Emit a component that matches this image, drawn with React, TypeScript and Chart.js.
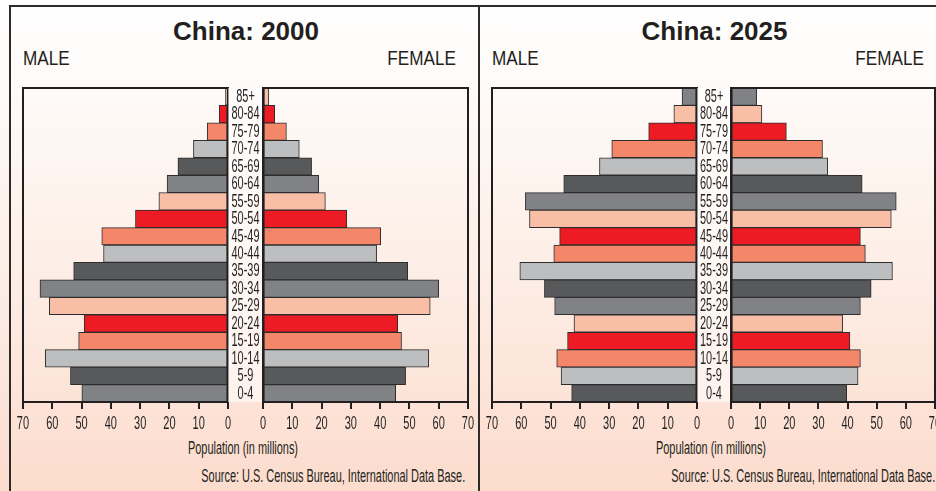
import React, { useEffect, useRef } from 'react';
import { Chart, registerables } from 'chart.js';

Chart.register(...registerables);

// ---------- DATA (population in millions), listed from oldest (top) to youngest (bottom) ----------
const AGE_GROUPS = ['85+', '80-84', '75-79', '70-74', '65-69', '60-64', '55-59', '50-54', '45-49', '40-44', '35-39', '30-34', '25-29', '20-24', '15-19', '10-14', '5-9', '0-4'];

const MALE_2000 = [0.9, 3.0, 7.1, 11.8, 17.1, 20.8, 23.6, 31.6, 43.1, 42.5, 52.7, 64.2, 61.0, 49.1, 51.0, 62.4, 53.8, 49.9];
const FEMALE_2000 = [2.0, 4.0, 8.0, 12.4, 16.6, 19.0, 21.3, 28.6, 40.2, 38.8, 49.4, 60.0, 57.1, 46.0, 47.3, 56.6, 48.7, 45.3];

const MALE_2025 = [5.1, 7.9, 16.5, 29.1, 33.3, 45.5, 58.6, 57.2, 46.9, 48.9, 60.5, 52.1, 48.6, 42.0, 44.2, 47.9, 46.4, 42.8];
const FEMALE_2025 = [8.8, 10.6, 19.0, 31.4, 33.2, 45.0, 56.7, 55.0, 44.4, 46.1, 55.4, 48.1, 44.4, 38.3, 40.8, 44.4, 43.6, 39.7];

const X_MIN = 0;
const X_MAX = 70;
const X_STEP = 10;

const TITLE_2000 = 'China: 2000';
const TITLE_2025 = 'China: 2025';
const MALE_LABEL = 'MALE';
const FEMALE_LABEL = 'FEMALE';
const AXIS_TITLE = 'Population (in millions)';
const SOURCE = 'Source: U.S. Census Bureau, International Data Base.';

// ---------- STYLES ----------
const GRAY = '#808285';
const DARK = '#58595B';
const LIGHT = '#BCBEC0';
const SALMON = '#F4866A';
const RED = '#ED1C24';
const PEACH = '#F9BEA6';

const CYCLE_2000 = [PEACH, RED, SALMON, LIGHT, DARK, GRAY];
const CYCLE_2025 = [GRAY, PEACH, RED, SALMON, LIGHT, DARK];
const COLORS_2000 = AGE_GROUPS.map((_, i) => CYCLE_2000[i % 6]);
const COLORS_2025 = AGE_GROUPS.map((_, i) => CYCLE_2025[i % 6]);

const INK = '#231F20';
const FONT = '"Liberation Sans", Arial, Helvetica, sans-serif';

const W = 936;
const H = 491;
const CANVAS_TOP = 80;
const PLOT_TOP = 88;
const PLOT_BOTTOM = 402;
const AXIS_H = 32;
const CANVAS_H = PLOT_BOTTOM - CANVAS_TOP + AXIS_H;

function condensed(ctx: CanvasRenderingContext2D, text: string, x: number, y: number, size: number, sx: number) {
  ctx.save();
  ctx.translate(x, y);
  ctx.scale(sx, 1);
  ctx.font = `${size}px ${FONT}`;
  ctx.fillStyle = INK;
  ctx.textAlign = 'center';
  ctx.textBaseline = 'middle';
  ctx.fillText(text, 0, 0);
  ctx.restore();
}

type HalfProps = {
  values: number[];
  colors: string[];
  male: boolean;
  plotLeft: number;
  plotRight: number;
  strip: number; // width of the centre age-label strip (female side only)
};

function HalfPyramid({ values, colors, male, plotLeft, plotRight, strip }: HalfProps) {
  const ref = useRef<HTMLCanvasElement | null>(null);
  const padLeft = male ? 10 : strip;
  const padRight = 10;
  const left = plotLeft - padLeft;
  const width = plotRight - plotLeft + padLeft + padRight;

  useEffect(() => {
    const canvas = ref.current;
    if (!canvas) return;
    const decor = {
      id: 'decor',
      beforeDatasetsDraw(chart: any) {
        const { ctx, chartArea: a } = chart;
        if (!male) {
          ctx.save();
          ctx.fillStyle = 'rgba(255,255,255,0.55)';
          ctx.fillRect(a.left - strip, a.top, strip, a.bottom - a.top);
          ctx.restore();
        }
      },
      afterDraw(chart: any) {
        const { ctx, chartArea: a } = chart;
        ctx.save();
        ctx.strokeStyle = INK;
        ctx.lineWidth = 2;
        ctx.strokeRect(a.left, a.top, a.right - a.left, a.bottom - a.top);
        ctx.restore();
        const xs = chart.scales.x;
        xs.ticks.forEach((t: any, i: number) => {
          condensed(ctx, String(t.value), xs.getPixelForTick(i), a.bottom + 21.5, 19, 0.58);
        });
        if (!male) {
          const ys = chart.scales.y;
          chart.data.labels.forEach((lab: string, i: number) => {
            condensed(ctx, lab, a.left - strip / 2, ys.getPixelForTick(i) + 0.5, 17.5, 0.625);
          });
        }
      },
    };
    const chart = new Chart(canvas, {
      type: 'bar',
      data: {
        labels: AGE_GROUPS,
        datasets: [
          {
            data: values,
            backgroundColor: colors,
            borderColor: '#2E2C2D',
            borderWidth: 1,
            borderSkipped: false,
            barPercentage: 1,
            categoryPercentage: 1,
          },
        ],
      },
      options: {
        indexAxis: 'y',
        responsive: false,
        maintainAspectRatio: false,
        animation: false,
        devicePixelRatio: 1,
        events: [],
        layout: { padding: { left: padLeft, right: padRight, top: PLOT_TOP - CANVAS_TOP, bottom: 0 } },
        plugins: { legend: { display: false }, tooltip: { enabled: false } },
        scales: {
          x: {
            type: 'linear',
            min: X_MIN,
            max: X_MAX,
            reverse: male,
            position: 'bottom',
            ticks: { stepSize: X_STEP, display: false },
            grid: { drawOnChartArea: false, drawTicks: true, tickLength: 7, color: INK, lineWidth: 2 },
            border: { display: true, color: INK, width: 2 },
            afterFit: (s: any) => {
              s.height = AXIS_H;
            },
          },
          y: { display: false },
        },
      } as any,
      plugins: [decor],
    });
    return () => chart.destroy();
  }, []);

  return (
    <canvas
      ref={ref}
      width={width}
      height={CANVAS_H}
      style={{ position: 'absolute', left, top: CANVAS_TOP, width, height: CANVAS_H }}
    />
  );
}

type TextProps = { x: number; y: number; text: string; size: number; sx?: number; align: 'left' | 'center' | 'right'; bold?: boolean };

function Label({ x, y, text, size, sx = 1, align, bold }: TextProps) {
  const base: React.CSSProperties = {
    position: 'absolute',
    top: y,
    whiteSpace: 'nowrap',
    fontFamily: FONT,
    fontSize: size,
    fontWeight: bold ? 700 : 400,
    lineHeight: 1,
    color: INK,
  };
  if (align === 'center') {
    return <div style={{ ...base, left: x, transform: `translate(-50%, -50%) scaleX(${sx})` }}>{text}</div>;
  }
  if (align === 'left') {
    return <div style={{ ...base, left: x, transformOrigin: 'left center', transform: `translateY(-50%) scaleX(${sx})` }}>{text}</div>;
  }
  return <div style={{ ...base, right: W - x, transformOrigin: 'right center', transform: `translateY(-50%) scaleX(${sx})` }}>{text}</div>;
}

type PanelProps = {
  title: string;
  male: number[];
  female: number[];
  colors: string[];
  maleLeft: number;
  maleZero: number;
  femaleZero: number;
  femaleRight: number;
  titleX: number;
  femaleLabelRight: number;
  axisTitleX: number;
  sourceRight: number;
};

function Panel(p: PanelProps) {
  return (
    <>
      <Label x={p.titleX} y={30.5} text={p.title} size={26} align="center" bold />
      <Label x={p.maleLeft} y={58.5} text={MALE_LABEL} size={19.5} sx={0.88} align="left" />
      <Label x={p.femaleLabelRight} y={58.5} text={FEMALE_LABEL} size={19.5} sx={0.88} align="right" />
      <HalfPyramid values={p.male} colors={p.colors} male plotLeft={p.maleLeft} plotRight={p.maleZero} strip={0} />
      <HalfPyramid
        values={p.female}
        colors={p.colors}
        male={false}
        plotLeft={p.femaleZero}
        plotRight={p.femaleRight}
        strip={p.femaleZero - p.maleZero}
      />
      <Label x={p.axisTitleX} y={449} text={AXIS_TITLE} size={17.5} sx={0.625} align="center" />
      <Label x={p.sourceRight} y={477} text={SOURCE} size={17.5} sx={0.625} align="right" />
    </>
  );
}

export default function App() {
  return (
    <div
      style={{
        position: 'fixed',
        left: 0,
        top: 0,
        width: W,
        height: H,
        overflow: 'hidden',
        background: 'linear-gradient(to bottom, #ffffff 0%, #fefaf7 20%, #fdeee6 55%, #fcdccd 100%)',
      }}
    >
      {/* frame lines */}
      <div style={{ position: 'absolute', left: 9, top: 5, width: W - 9, height: 2, background: '#2d2b2c' }} />
      <div style={{ position: 'absolute', left: 9, top: 5, width: 2, height: H - 5, background: '#2d2b2c' }} />
      <div style={{ position: 'absolute', left: 478, top: 5, width: 2, height: H - 5, background: '#2d2b2c' }} />

      <Panel
        title={TITLE_2000}
        male={MALE_2000}
        female={FEMALE_2000}
        colors={COLORS_2000}
        maleLeft={23}
        maleZero={228}
        femaleZero={263}
        femaleRight={468}
        titleX={246}
        femaleLabelRight={456}
        axisTitleX={242.5}
        sourceRight={465}
      />
      <Panel
        title={TITLE_2025}
        male={MALE_2025}
        female={FEMALE_2025}
        colors={COLORS_2025}
        maleLeft={492}
        maleZero={697}
        femaleZero={731}
        femaleRight={935}
        titleX={714.5}
        femaleLabelRight={924}
        axisTitleX={711}
        sourceRight={935}
      />
    </div>
  );
}
